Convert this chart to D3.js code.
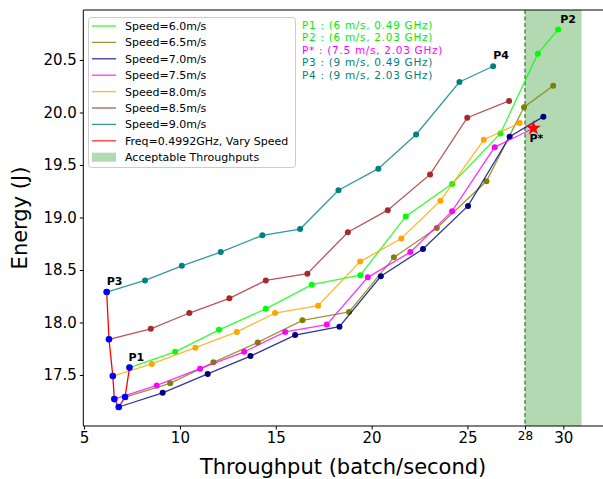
<!DOCTYPE html>
<html><head><meta charset="utf-8">
<script src="https://cdn.jsdelivr.net/npm/d3@7"></script>
<style>body{margin:0;background:#fff}svg{display:block;font-family:"DejaVu Sans",sans-serif}</style>
</head><body><svg id="c" width="603" height="479"></svg>
<script>
const speeds = ["6.0","6.5","7.0","7.5","8.0","8.5","9.0"];
const colors = ["#00ff00","#808000","#000080","#ff00ff","#ffa500","#a52a2a","#008080"];
const thr60 = [7.37,9.75,12.04,14.48,16.88,19.41,21.78,24.20,26.72,28.67,29.73];
const en60  = [17.57,17.72,17.93,18.13,18.36,18.45,19.01,19.32,19.80,20.56,20.79];
const thr65 = [7.14,9.49,11.75,14.06,16.39,18.82,21.16,23.40,25.99,27.95,29.47];
const en65  = [17.29,17.42,17.62,17.81,18.02,18.10,18.62,18.90,19.345,20.05,20.255];
const thr70 = [6.81,9.10,11.45,13.68,16.01,18.32,20.48,22.68,25.03,27.20,28.96];
const en70  = [17.195,17.33,17.51,17.68,17.88,17.96,18.44,18.70,19.11,19.77,19.96];
const thr75 = [6.58,8.79,11.05,13.35,15.49,17.66,19.80,22.02,24.20,26.42,28.44];
const en75  = [17.27,17.40,17.56,17.72,17.91,17.98,18.43,18.67,19.06,19.67,19.85];
const thr80 = [6.50,8.53,10.81,12.97,14.96,17.21,19.40,21.55,23.59,25.85,27.73];
const en80  = [17.49,17.605,17.76,17.91,18.09,18.16,18.58,18.80,19.16,19.74,19.90];
const thr85 = [6.30,8.48,10.49,12.58,14.48,16.65,18.76,20.84,23.05,24.99,27.17];
const en85  = [17.84,17.94,18.09,18.23,18.40,18.465,18.86,19.07,19.41,19.95,20.11];
const thr90 = [6.18,8.18,10.10,12.13,14.30,16.27,18.27,20.35,22.32,24.58,26.34];
const en90  = [18.29,18.40,18.54,18.67,18.83,18.89,19.26,19.465,19.79,20.29,20.44];
const thrList = [thr60,thr65,thr70,thr75,thr80,thr85,thr90];
const enList = [en60,en65,en70,en75,en80,en85,en90];
// red line: lowest frequency, speed 9.0 -> 6.0
const redOrder = [6,5,4,3,2,1,0];
const acceptRange = [28, 30.95];
const xTicks = [5,10,15,20,25,30];
const extraTick = 28;
const yTicks = [17.5,18.0,18.5,19.0,19.5,20.0,20.5];
const pStar = {x:28.44, y:19.85};
const annotLines = [
  {t:"P1 : (6 m/s, 0.49 GHz)", c:"#00ee00"},
  {t:"P2 : (6 m/s, 2.03 GHz)", c:"#00ee00"},
  {t:"P* : (7.5 m/s, 2.03 GHz)", c:"#ff00ff"},
  {t:"P3 : (9 m/s, 0.49 GHz)", c:"#008080"},
  {t:"P4 : (9 m/s, 2.03 GHz)", c:"#008080"}
];

const svg = d3.select("#c");
const L=83.3, T=10, B=426;
const x = d3.scaleLinear().domain([4.96,32.24]).range([L, L+27.28*19.17]);
const y = d3.scaleLinear().domain([17.014,20.976]).range([B,T]);

// acceptable band
svg.append("rect").attr("x",x(acceptRange[0])).attr("y",T)
  .attr("width",x(acceptRange[1])-x(acceptRange[0])).attr("height",B-T)
  .attr("fill","rgb(178,217,178)");
svg.append("line").attr("x1",x(28)).attr("x2",x(28)).attr("y1",T).attr("y2",B)
  .attr("stroke","#006400").attr("stroke-width",1).attr("stroke-dasharray","4,2.5");

const line = d3.line().x(d=>x(d[0])).y(d=>y(d[1]));
const g = svg.append("g");
thrList.forEach((th,i)=>{
  const pts = th.map((v,j)=>[v,enList[i][j]]);
  g.append("path").attr("d",line(pts)).attr("fill","none")
    .attr("stroke",colors[i]).attr("stroke-opacity",0.8).attr("stroke-width",1.3);
  g.selectAll(null).data(pts).enter().append("circle")
    .attr("cx",d=>x(d[0])).attr("cy",d=>y(d[1])).attr("r",3).attr("fill",colors[i]);
});
// red vary-speed line
const redPts = redOrder.map(i=>[thrList[i][0],enList[i][0]]);
g.append("path").attr("d",line(redPts)).attr("fill","none").attr("stroke","#ff0000").attr("stroke-width",1.3);
g.selectAll(null).data(redPts).enter().append("circle")
  .attr("cx",d=>x(d[0])).attr("cy",d=>y(d[1])).attr("r",3.3).attr("fill","#0000ff");

// star
const star = d3.symbol().type(d3.symbolStar).size(70);
svg.append("path").attr("d",star()).attr("transform",`translate(${x(pStar.x)},${y(pStar.y)})`).attr("fill","#ff0000");

// point labels
const lbl = [
  {t:"P1", x:thr60[0], y:en60[0], dx:-1, dy:-7},
  {t:"P2", x:thr60[10], y:en60[10], dx:2, dy:-7},
  {t:"P3", x:thr90[0], y:en90[0], dx:0, dy:-7},
  {t:"P4", x:thr90[10], y:en90[10], dx:0, dy:-7},
  {t:"P*", x:pStar.x, y:pStar.y, dx:-4, dy:14}
];
svg.selectAll(null).data(lbl).enter().append("text")
  .attr("x",d=>x(d.x)+d.dx).attr("y",d=>y(d.y)+d.dy)
  .attr("font-size",11).attr("font-weight","bold").attr("fill","#000")
  .text(d=>d.t);

// axes
const xa = svg.append("g").attr("transform",`translate(0,${B})`)
  .call(d3.axisBottom(x).tickValues(xTicks).tickSize(3.5).tickPadding(3).tickFormat(d3.format("d")));
xa.select(".domain").remove();
xa.selectAll("text").attr("font-size",15).attr("fill","#000").attr("font-family","DejaVu Sans");
svg.append("g").attr("transform",`translate(0,${B})`)
  .call(d3.axisBottom(x).tickValues([extraTick]).tickSize(3.5).tickPadding(2).tickFormat(d3.format("d")))
  .call(a=>a.select(".domain").remove())
  .selectAll("text").attr("font-size",12).attr("fill","#000").attr("font-family","DejaVu Sans");
const ya = svg.append("g").attr("transform",`translate(${L},0)`)
  .call(d3.axisLeft(y).tickValues(yTicks).tickSize(3.5).tickPadding(3).tickFormat(d3.format(".1f")));
ya.select(".domain").remove();
ya.selectAll("text").attr("font-size",15).attr("fill","#000").attr("font-family","DejaVu Sans");

// spines
svg.append("line").attr("x1",L).attr("x2",L).attr("y1",T).attr("y2",B).attr("stroke","#000");
svg.append("line").attr("x1",L).attr("x2",603).attr("y1",B).attr("y2",B).attr("stroke","#000");
svg.append("line").attr("x1",L).attr("x2",603).attr("y1",T).attr("y2",T).attr("stroke","#000");

// axis titles
svg.append("text").attr("x",(L+603)/2).attr("y",474).attr("text-anchor","middle")
  .attr("font-size",21).text("Throughput (batch/second)");
svg.append("text").attr("transform",`translate(27,${(T+B)/2}) rotate(-90)`).attr("text-anchor","middle")
  .attr("font-size",21).text("Energy (J)");

// annotation text, one line per point
svg.selectAll(null).data(annotLines).enter().append("text")
  .attr("x",302).attr("y",(d,i)=>29+i*12.4).attr("font-size",10.5)
  .attr("letter-spacing",0.7).attr("fill",d=>d.c).text(d=>d.t);

// legend
const lg = svg.append("g");
lg.append("rect").attr("x",88.5).attr("y",17.5).attr("width",207).attr("height",150).attr("rx",3)
  .attr("fill","#fff").attr("fill-opacity",0.8).attr("stroke","#ccc");
const legItems = speeds.map((s,i)=>({t:`Speed=${s}m/s`, c:colors[i], type:"line"}))
  .concat([{t:"Freq=0.4992GHz, Vary Speed", c:"#ff0000", type:"line"},
           {t:"Acceptable Throughputs", c:"rgb(178,217,178)", type:"patch"}]);
legItems.forEach((d,i)=>{
  const yy = 26 + i*16.4;
  if(d.type==="line"){
    lg.append("line").attr("x1",92).attr("x2",116).attr("y1",yy).attr("y2",yy)
      .attr("stroke",d.c).attr("stroke-opacity",0.8).attr("stroke-width",1.3);
  } else {
    lg.append("rect").attr("x",92).attr("y",yy-4.5).attr("width",24).attr("height",9).attr("fill",d.c);
  }
  lg.append("text").attr("x",125).attr("y",yy+4).attr("font-size",11).attr("fill","#000").text(d.t);
});
</script></body></html>
